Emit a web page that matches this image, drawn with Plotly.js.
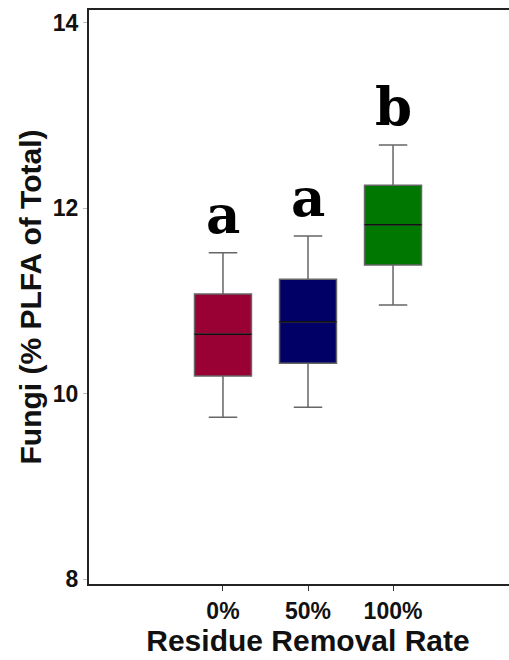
<!DOCTYPE html>
<html>
<head>
<meta charset="utf-8">
<script src="https://cdn.plot.ly/plotly-3.0.1.min.js"></script>
<style>
html, body { margin: 0; padding: 0; overflow: hidden; background: #fff; }
#chart { width: 530px; height: 660px; }
</style>
</head>
<body>
<div id="chart"></div>
<script>
const categories = ["0%", "50%", "100%"];
const lowerWhisker = [9.745, 9.853, 10.957];
const q1Values = [10.19, 10.328, 11.388];
const medianValues = [10.64, 10.777, 11.823];
const q3Values = [11.075, 11.234, 12.25];
const upperWhisker = [11.52, 11.70, 12.683];
const groupLetters = ["a", "a", "b"];
const boxColors = ["#990033", "#000066", "#007700"];

const boxWidth = 0.67;

const traces = categories.map((c, i) => ({
  type: "box",
  x: [c],
  q1: [q1Values[i]],
  median: [medianValues[i]],
  q3: [q3Values[i]],
  lowerfence: [lowerWhisker[i]],
  upperfence: [upperWhisker[i]],
  width: boxWidth,
  fillcolor: boxColors[i],
  line: { color: "#666666", width: 1.5 },
  whiskerwidth: 0.5,
  boxpoints: false,
  hoverinfo: "skip",
  showlegend: false
}));

const shapes = categories.map((c, i) => ({
  type: "line", xref: "x", yref: "y",
  x0: i - boxWidth / 2, x1: i + boxWidth / 2,
  y0: medianValues[i], y1: medianValues[i],
  line: { color: "#111111", width: 1.5 }
}));

const annotations = categories.map((c, i) => ({
  xref: "x", yref: "y", x: i, y: upperWhisker[i],
  yanchor: "bottom", xanchor: "center",
  text: groupLetters[i], showarrow: false, yshift: 6,
  font: { family: "DejaVu Serif", size: 53, color: "#000", weight: "bold" }
}));

const sansBold = { family: "Liberation Sans, Arial, sans-serif", color: "#111", weight: "bold" };

const layout = {
  width: 530, height: 660,
  margin: { l: 89, r: 3, t: 10, b: 76 },
  paper_bgcolor: "#fff", plot_bgcolor: "#fff",
  showlegend: false,
  xaxis: {
    type: "category",
    categoryorder: "array", categoryarray: categories,
    range: [-1.576, 3.576],
    showline: true, linecolor: "#222", linewidth: 2, mirror: true,
    showgrid: false, zeroline: false,
    ticks: "outside", ticklen: 5, tickcolor: "#333", tickwidth: 1,
    tickfont: Object.assign({ size: 23 }, sansBold),
    title: { text: "Residue Removal Rate", font: Object.assign({ size: 30 }, sansBold), standoff: 6 }
  },
  yaxis: {
    range: [7.946, 14.14],
    tickvals: [8, 10, 12, 14],
    showline: true, linecolor: "#222", linewidth: 2, mirror: false,
    showgrid: false, zeroline: false,
    ticks: "outside", ticklen: 4, tickcolor: "#bbb", tickwidth: 1,
    tickfont: Object.assign({ size: 23 }, sansBold),
    title: { text: "Fungi (% PLFA of Total)", font: Object.assign({ size: 30 }, sansBold), standoff: 2 }
  },
  shapes: shapes,
  annotations: annotations
};

Plotly.newPlot("chart", traces, layout, { displayModeBar: false, staticPlot: true });
</script>
</body>
</html>
